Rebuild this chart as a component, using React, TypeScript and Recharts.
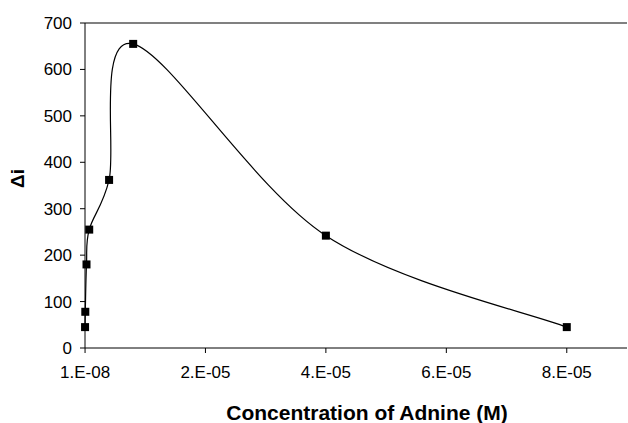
import { LineChart, Line, XAxis, YAxis, ReferenceLine } from "recharts";

const FONT = "'Liberation Sans', Arial, sans-serif";

// concentration (M) and response (Δi)
const concentrations = [1e-8, 5e-8, 2.5e-7, 7e-7, 4e-6, 8e-6, 4e-5, 8e-5];
const deltaI = [45, 78, 180, 255, 362, 655, 242, 45];

const xTicks = [1e-8, 2e-5, 4e-5, 6e-5, 8e-5];
const xTickLabels = ["1.E-08", "2.E-05", "4.E-05", "6.E-05", "8.E-05"];
const yTicks = [0, 100, 200, 300, 400, 500, 600, 700];

const data = concentrations.map((c, i) => ({ c, v: deltaI[i] }));

// spreadsheet-style smoothed line: bezier arms = (next - prev) / 6, capped at half the segment
function smoothCurve(ctx: any) {
  let pts: [number, number][] = [];
  return {
    areaStart() {},
    areaEnd() {},
    lineStart() {
      pts = [];
    },
    point(x: number, y: number) {
      pts.push([+x, +y]);
    },
    lineEnd() {
      const n = pts.length;
      if (!n) return;
      ctx.moveTo(pts[0][0], pts[0][1]);
      for (let i = 0; i < n - 1; i++) {
        const p0 = pts[Math.max(i - 1, 0)];
        const p1 = pts[i];
        const p2 = pts[i + 1];
        const p3 = pts[Math.min(i + 2, n - 1)];
        const seg = Math.hypot(p2[0] - p1[0], p2[1] - p1[1]);
        const arm = (a: [number, number], b: [number, number]) => {
          let dx = (b[0] - a[0]) / 6;
          let dy = (b[1] - a[1]) / 6;
          const len = Math.hypot(dx, dy);
          if (len > seg / 2 && len > 0) {
            dx *= seg / 2 / len;
            dy *= seg / 2 / len;
          }
          return [dx, dy];
        };
        const a1 = arm(p0, p2);
        const a2 = arm(p1, p3);
        ctx.bezierCurveTo(p1[0] + a1[0], p1[1] + a1[1], p2[0] - a2[0], p2[1] - a2[1], p2[0], p2[1]);
      }
    },
  };
}

function SquareDot(props: any) {
  const { cx, cy } = props;
  if (cx == null || cy == null) return null;
  return <rect x={cx - 4} y={cy - 4} width={8} height={8} fill="#000" />;
}

function YLabel(props: any) {
  const vb = props.viewBox || {};
  const x = (vb.x ?? 0) + 17;
  const y = (vb.y ?? 0) + (vb.height ?? 0) / 2 - 7;
  return (
    <text
      x={x}
      y={y}
      transform={`rotate(-90 ${x} ${y})`}
      textAnchor="middle"
      dominantBaseline="central"
      fill="#000"
      fontSize={19}
      fontWeight="bold"
      fontFamily={FONT}
    >
      Δi
    </text>
  );
}

export default function App() {
  return (
    <div style={{ position: "absolute", left: 0, top: 0, background: "#fff" }}>
      <LineChart width={628} height={423} data={data} margin={{ top: 23, right: 1, bottom: 0, left: 0 }}>
        <ReferenceLine y={700} stroke="#808080" strokeWidth={2} />
        <XAxis
          dataKey="c"
          type="number"
          domain={[0, 9e-5]}
          ticks={xTicks}
          tickFormatter={(v: number) => xTickLabels[xTicks.indexOf(v)] ?? ""}
          height={75}
          stroke="#000"
          tickSize={5}
          tick={{ fill: "#000", fontSize: 17, fontFamily: FONT }}
          tickMargin={13}
          interval={0}
          label={{
            value: "Concentration of Adnine (M)",
            position: "insideBottom",
            offset: 3,
            dx: 11,
            style: { fill: "#000", fontSize: 21, fontWeight: "bold", fontFamily: FONT },
          }}
        />
        <YAxis
          type="number"
          domain={[0, 700]}
          ticks={yTicks}
          width={85}
          stroke="#000"
          tickSize={5}
          tickMargin={8}
          tick={{ fill: "#000", fontSize: 17, fontFamily: FONT }}
          label={<YLabel />}
        />
        <Line
          type={smoothCurve as any}
          dataKey="v"
          stroke="#000"
          strokeWidth={1.2}
          dot={<SquareDot />}
          activeDot={false}
          isAnimationActive={false}
        />
      </LineChart>
    </div>
  );
}
